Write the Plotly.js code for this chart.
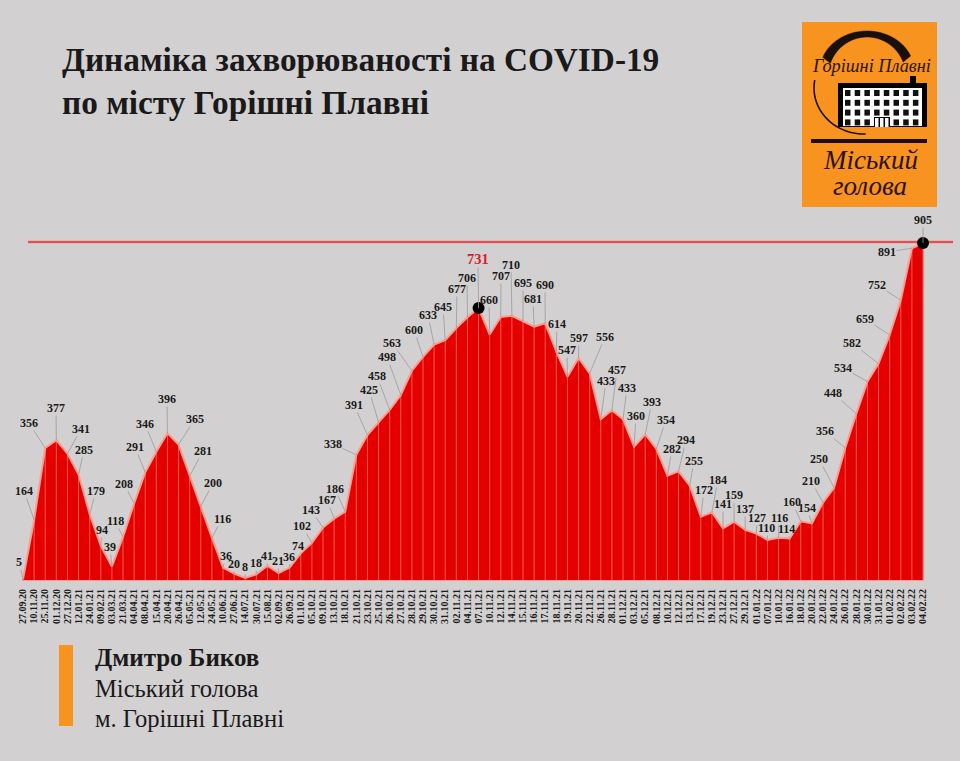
<!DOCTYPE html>
<html><head><meta charset="utf-8">
<script src="https://cdn.plot.ly/plotly-3.0.1.min.js"></script>
<style>html,body{margin:0;padding:0;background:#d2d0d0}#c{width:960px;height:761px}</style>
</head><body><div id="c"></div>
<script>
const dates = ["27.09.20","10.11.20","25.11.20","01.12.20","27.12.20","12.01.21","24.01.21","09.02.21","03.03.21","21.03.21","04.04.21","08.04.21","15.04.21","20.04.21","26.04.21","05.05.21","12.05.21","24.05.21","10.06.21","27.06.21","14.07.21","30.07.21","15.08.21","02.09.21","26.09.21","01.10.21","05.10.21","09.10.21","13.10.21","18.10.21","21.10.21","23.10.21","25.10.21","26.10.21","27.10.21","28.10.21","29.10.21","30.10.21","31.10.21","02.11.21","04.11.21","07.11.21","10.11.21","12.11.21","14.11.21","15.11.21","16.11.21","17.11.21","18.11.21","19.11.21","20.11.21","22.11.21","26.11.21","28.11.21","01.12.21","03.12.21","05.12.21","08.12.21","10.12.21","12.12.21","13.12.21","17.12.21","19.12.21","23.12.21","27.12.21","29.12.21","01.01.22","07.01.22","10.01.22","16.01.22","18.01.22","20.01.22","22.01.22","24.01.22","26.01.22","28.01.22","30.01.22","31.01.22","01.02.22","02.02.22","03.02.22","04.02.22"];
const cases = [5,164,356,377,341,285,179,94,39,118,208,291,346,396,365,281,200,116,36,20,8,18,41,21,36,74,102,143,167,186,338,391,425,458,498,563,600,633,645,677,706,731,660,707,710,695,681,690,614,547,597,556,433,457,433,360,393,354,282,294,255,172,184,141,159,137,127,110,116,114,160,154,210,250,356,448,534,582,659,752,891,905];
const peakDates = ["07.11.21","04.02.22"];
const peakValues = [731,905];
// where each value label sits on the page (pixels), used only for label placement
const labelX = [19,24,29,56,81,84,96,102,110,115,124,135,145,167,195,203,213,222,226,234,245,256,267,278,289,298,302,311,327,335,333,354,369,377,387,392,414,428,443,457,467,478,489,501,511,523,533,545,557,567,579,605,606,617,627,636,652,666,672,686,694,704,718,723,734,745,757,767,779,786,792,807,811,819,825,833,843,852,865,877,887,923];
const labelY = [562,491,423,408,429,450,491,530,547,521,484,447,424,399,419,451,483,519,556,564,567,563,556,561,557,546,526,510,500,489,444,405,390,376,357,343,330,315,307,289,278,259,300,276,265,283,299,285,324,350,338,337,381,370,388,416,402,420,449,440,461,490,480,504,495,509,518,528,518,529,502,508,481,459,431,393,368,343,319,285,252,220];

const W=960,H=761,baseY=581,x0=23,dx=900/81,py=338/905;
const px=(x)=>x/W, pyy=(y)=>1-y/baseY;
const shapes=[];
function rect(a,b,c,d,col){shapes.push({type:'rect',xref:'paper',yref:'paper',x0:px(a),x1:px(c),y0:pyy(b),y1:pyy(d),fillcolor:col,line:{width:0},layer:'above'});}
function path(pts,col,w,fill){
  const s=pts.map((p,i)=>(i?'L':'M')+px(p[0]).toFixed(5)+','+pyy(p[1]).toFixed(5)).join(' ')+(fill?' Z':'');
  shapes.push({type:'path',xref:'paper',yref:'paper',path:s,line:{color:col,width:w},fillcolor:fill||'rgba(0,0,0,0)',layer:'above'});
}
// reference line and baseline
shapes.push({type:'line',xref:'paper',yref:'paper',x0:28/W,x1:953/W,y0:pyy(242),y1:pyy(242),line:{color:'#e8787c',width:2.5},layer:'below'});
shapes.push({type:'line',xref:'paper',yref:'paper',x0:28/W,x1:953/W,y0:pyy(242),y1:pyy(242),line:{color:'#d8272c',width:1},layer:'below'});
shapes.push({type:'line',xref:'x',yref:'y',x0:dates[0],x1:dates[dates.length-1],y0:0,y1:0,line:{color:'#ff9e90',width:2}});
// footer bar
rect(59,645,73,726,'#f7931e');
// logo
rect(802,22,937,207,'#f7931e');
function arc(cx,cy,rx,ry,a0,a1,n){const o=[];for(let i=0;i<=n;i++){const t=(a0+(a1-a0)*i/n)*Math.PI/180;o.push([cx+rx*Math.cos(t),cy+ry*Math.sin(t)]);}return o;}
const outer=arc(867,71,47,40,-160,-22,30), inner=arc(867,77,39,40,-22,-160,30);
path(outer.concat(inner),'#1a0f0a',0.5,'#1a0f0a');
path(arc(864,88,50,46,190,88,30),'#1a0f0a',1.6);
rect(838,83,927,127,'#000');
rect(910,76,916,84,'#000');
rect(843,88,922,126,'#fff');
for(let r=0;r<4;r++)for(let c=0;c<8;c++){rect(845+c*9.7,90+r*9.8,850.5+c*9.7,96+r*9.8,'#111');}
rect(874,117,890,127,'#000');
for(let i=0;i<3;i++)rect(875+i*5,118,878.5+i*5,127,'#fff');
rect(811,139,927,143,'#1a0f0a');

const ann=[];
cases.forEach((v,i)=>{
  const ptX=x0+dx*i, ptY=baseY-py*v;
  ann.push({x:dates[i],y:v,xref:'x',yref:'y',axref:'pixel',ayref:'pixel',ax:labelX[i]-ptX,ay:labelY[i]-ptY,text:String(v),showarrow:true,arrowhead:0,arrowwidth:0.8,arrowcolor:'#9a9a9a',standoff:0,startstandoff:0,
    font:{family:'"Liberation Serif",serif',size:i==41?14.5:12,color:i==41?'#d8202a':'#1a1a1a',weight:'bold'},borderpad:0});
});
function txt(t,x,y,size,opts){ann.push(Object.assign({xref:'paper',yref:'paper',x:x/W,y:pyy(y),text:t,showarrow:false,xanchor:'left',yanchor:'middle',font:Object.assign({family:'"Liberation Serif",serif',size:size,color:'#1a1a1a'},opts||{})}));}
txt('<b>Дмитро Биков</b>',93,657,25);
txt('Міський голова',93,688,24.6);
txt('м. Горішні Плавні',93,718,24.6);
const lg={family:'"Liberation Serif",serif',color:'#2a120a',style:'italic'};
ann.push({xref:'paper',yref:'paper',x:871/W,y:pyy(66),text:'Горішні Плавні',showarrow:false,xanchor:'center',yanchor:'middle',font:Object.assign({size:18.3},lg)});
ann.push({xref:'paper',yref:'paper',x:870/W,y:pyy(160),text:'Міський',showarrow:false,xanchor:'center',yanchor:'middle',font:Object.assign({size:27},lg)});
ann.push({xref:'paper',yref:'paper',x:870/W,y:pyy(186),text:'голова',showarrow:false,xanchor:'center',yanchor:'middle',font:Object.assign({size:27},lg)});

const data=[
 {type:'scatter',mode:'lines',x:dates,y:cases,fill:'tozeroy',fillcolor:'#e40000',line:{color:'#ff9e90',width:2,shape:'linear'},
  error_y:{type:'data',symmetric:false,array:cases.map(()=>0),arrayminus:cases,color:'#ff5a4c',thickness:1,width:0},hoverinfo:'skip'},
 {type:'scatter',mode:'markers',x:peakDates,y:peakValues,marker:{color:'#000',size:12},cliponaxis:false,hoverinfo:'skip'}
];
const layout={width:W,height:H,showlegend:false,paper_bgcolor:'#d2d0d0',plot_bgcolor:'rgba(0,0,0,0)',
 margin:{l:0,r:0,t:0,b:H-baseY,pad:0},
 title:{text:'<b>Динаміка захворюваності на COVID-19<br>по місту Горішні Плавні</b>',xref:'paper',yref:'container',x:62/W,xanchor:'left',y:1-70.5/H,yanchor:'top',font:{family:'"Liberation Serif",serif',size:33.3,color:'#1a1a1a'}},
 xaxis:{type:'category',categoryorder:'array',categoryarray:dates,range:[-x0/dx,(W-x0)/dx],tickmode:'array',tickvals:dates,ticktext:dates,tickangle:-90,ticks:'outside',ticklen:3,tickcolor:'rgba(0,0,0,0)',showgrid:false,zeroline:false,showline:false,tickfont:{family:'"Liberation Serif",serif',size:10,color:'#1a1a1a',weight:'bold'}},
 yaxis:{range:[0,baseY/py],showgrid:false,zeroline:false,showticklabels:false,ticks:'',showline:false},
 shapes:shapes,annotations:ann};
Plotly.newPlot('c',data,layout,{staticPlot:true,displayModeBar:false});
</script></body></html>
